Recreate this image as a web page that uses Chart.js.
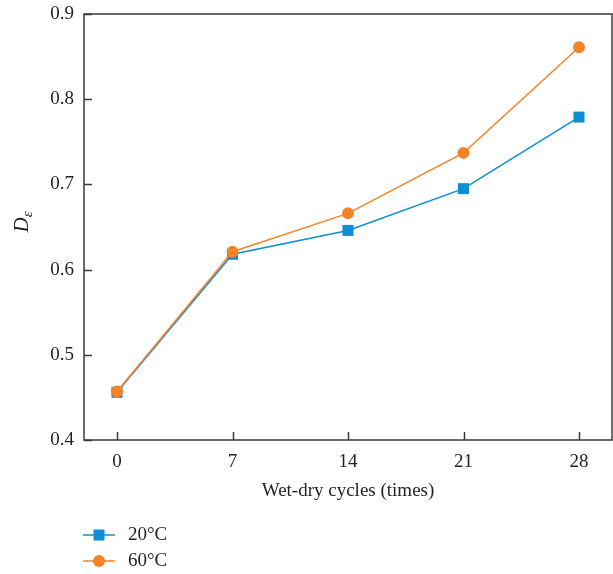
<!DOCTYPE html>
<html>
<head>
<meta charset="utf-8">
<script src="https://cdn.jsdelivr.net/npm/chart.js@4/dist/chart.umd.min.js"></script>
<style>
  html, body { margin: 0; padding: 0; background: #fff; }
  #wrap { width: 613px; height: 574px; }
</style>
</head>
<body>
<div id="wrap"><canvas id="c" width="613" height="574"></canvas></div>
<script>
// Wet-dry cycles and damage variable D_ε at two temperatures
const cycles = [0, 7, 14, 21, 28];
const d20 = [0.456, 0.618, 0.646, 0.695, 0.779];
const d60 = [0.457, 0.621, 0.666, 0.737, 0.861];
const xTicks = [0, 7, 14, 21, 28];
const yTicks = [0.4, 0.5, 0.6, 0.7, 0.8, 0.9];
const seriesNames = ['20°C', '60°C'];

const BLUE = '#0b8fd4';
const ORANGE = '#f58429';
const AXIS = '#3a3a3a';
const TEXT = '#231f20';
const FONT = '"Liberation Serif", "DejaVu Serif", serif';

// Inward tick marks on both axes, a closed frame and a stacked legend below
const framePlugin = {
  id: 'frame',
  afterDraw(chart) {
    const { ctx, chartArea: a, scales } = chart;
    const x = scales.x, y = scales.y;
    ctx.save();
    ctx.strokeStyle = AXIS;
    ctx.lineWidth = 1.5;
    ctx.strokeRect(a.left, a.top, a.right - a.left, a.bottom - a.top);
    ctx.beginPath();
    xTicks.forEach(v => {
      const px = Math.round(x.getPixelForValue(v)) + 0.5;
      ctx.moveTo(px, a.bottom);
      ctx.lineTo(px, a.bottom - 8);
    });
    yTicks.forEach(v => {
      const py = Math.round(y.getPixelForValue(v)) + 0.5;
      ctx.moveTo(a.left, py);
      ctx.lineTo(a.left + 8, py);
    });
    ctx.stroke();

    // y-axis title: italic D with subscript epsilon
    ctx.fillStyle = TEXT;
    ctx.translate(22, (a.top + a.bottom) / 2 - 5);
    ctx.rotate(-Math.PI / 2);
    ctx.textBaseline = 'middle';
    ctx.textAlign = 'left';
    ctx.font = 'italic 21px ' + FONT;
    const wD = ctx.measureText('D').width;
    ctx.font = 'italic 15px ' + FONT;
    const wE = ctx.measureText('ε').width;
    const start = -(wD + wE) / 2;
    ctx.font = 'italic 21px ' + FONT;
    ctx.fillText('D', start, 0);
    ctx.font = 'italic 15px ' + FONT;
    ctx.fillText('ε', start + wD, 6);
    ctx.restore();

    // legend
    ctx.save();
    const items = chart.data.datasets.slice().sort((p, q) => seriesNames.indexOf(p.label) - seriesNames.indexOf(q.label));
    items.forEach((ds, i) => {
      const ly = 535 + i * 26;
      ctx.strokeStyle = ds.borderColor;
      ctx.lineWidth = 1.5;
      ctx.beginPath();
      ctx.moveTo(83, ly);
      ctx.lineTo(115, ly);
      ctx.stroke();
      ctx.fillStyle = ds.backgroundColor;
      if (ds.pointStyle === 'rect') {
        ctx.fillRect(99 - 5.5, ly - 5.5, 11, 11);
      } else {
        ctx.beginPath();
        ctx.arc(99, ly, 6, 0, Math.PI * 2);
        ctx.fill();
      }
      ctx.fillStyle = TEXT;
      ctx.font = '19px ' + FONT;
      ctx.textBaseline = 'middle';
      ctx.textAlign = 'left';
      ctx.fillText(ds.label, 128, ly);
    });
    ctx.restore();
  }
};

new Chart(document.getElementById('c'), {
  type: 'line',
  data: {
    datasets: [
      {
        label: seriesNames[0],
        data: cycles.map((c, i) => ({ x: c, y: d20[i] })),
        borderColor: BLUE,
        backgroundColor: BLUE,
        borderWidth: 1.5,
        pointStyle: 'rect',
        pointRadius: 7.8,
        pointBorderWidth: 0,
        order: 1
      },
      {
        label: seriesNames[1],
        data: cycles.map((c, i) => ({ x: c, y: d60[i] })),
        borderColor: ORANGE,
        backgroundColor: ORANGE,
        borderWidth: 1.5,
        pointStyle: 'circle',
        pointRadius: 6,
        pointBorderWidth: 0,
        order: 0
      }
    ]
  },
  options: {
    responsive: false,
    animation: false,
    devicePixelRatio: 1,
    layout: { autoPadding: false, padding: { left: 0, top: 14, right: 1, bottom: 72 } },
    plugins: { legend: { display: false }, tooltip: { enabled: false } },
    scales: {
      x: {
        type: 'linear',
        min: -2,
        max: 30,
        afterBuildTicks(s) { s.ticks = xTicks.map(v => ({ value: v })); },
        afterFit(s) { s.height = 62; s.paddingLeft = 0; s.paddingRight = 0; },
        grid: { display: false, drawTicks: false },
        border: { display: false },
        ticks: { color: TEXT, font: { family: FONT, size: 19 }, padding: 11, maxRotation: 0 },
        title: {
          display: true,
          text: 'Wet-dry cycles (times)',
          color: TEXT,
          font: { family: FONT, size: 19 },
          padding: { top: 0, bottom: 0 }
        }
      },
      y: {
        type: 'linear',
        min: 0.4,
        max: 0.9,
        afterBuildTicks(s) { s.ticks = yTicks.map(v => ({ value: v })); },
        afterFit(s) { s.width = 84; s.paddingTop = 0; s.paddingBottom = 0; },
        grid: { display: false, drawTicks: false },
        border: { display: false },
        ticks: {
          color: TEXT,
          font: { family: FONT, size: 19 },
          padding: 10,
          callback: v => v.toFixed(1)
        }
      }
    }
  },
  plugins: [framePlugin]
});
</script>
</body>
</html>
